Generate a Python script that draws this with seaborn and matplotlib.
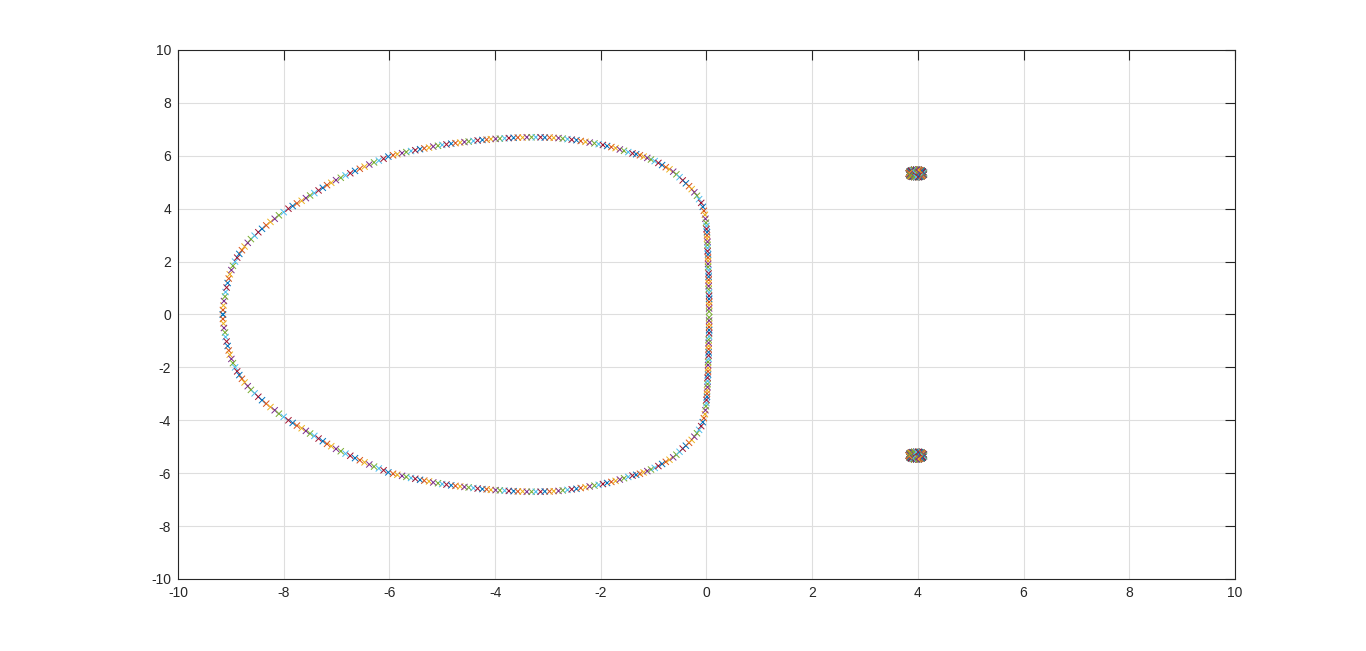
import numpy as np
import pandas as pd
import matplotlib
matplotlib.use("Agg")
import matplotlib.pyplot as plt
import seaborn as sns

# Roots: upper branch of the closed locus (lower branch is its conjugate)
locus_re = [
    -9.15, -9.15, -9.14, -9.13, -9.11, -9.10, -9.08, -9.06, -9.04, -9.02,
    -8.99, -8.96, -8.92, -8.88, -8.84, -8.79, -8.74, -8.68, -8.62, -8.55,
    -8.48, -8.41, -8.33, -8.25, -8.17, -8.09, -8.00, -7.91, -7.83, -7.75,
    -7.66, -7.58, -7.50, -7.42, -7.34, -7.26, -7.18, -7.10, -7.01, -6.92,
    -6.83, -6.74, -6.65, -6.56, -6.47, -6.38, -6.29, -6.20, -6.11, -6.02,
    -5.93, -5.85, -5.76, -5.68, -5.59, -5.51, -5.42, -5.34, -5.25, -5.17,
    -5.08, -5.00, -4.92, -4.83, -4.75, -4.66, -4.58, -4.50, -4.41, -4.33,
    -4.24, -4.16, -4.08, -3.99, -3.91, -3.82, -3.74, -3.65, -3.57, -3.48,
    -3.40, -3.31, -3.23, -3.14, -3.06, -2.97, -2.89, -2.80, -2.72, -2.63,
    -2.55, -2.46, -2.38, -2.29, -2.21, -2.12, -2.04, -1.96, -1.88, -1.80,
    -1.72, -1.64, -1.56, -1.48, -1.40, -1.33, -1.26, -1.19, -1.12, -1.05,
    -0.98, -0.91, -0.84, -0.77, -0.70, -0.63, -0.57, -0.51, -0.45, -0.39,
    -0.33, -0.28, -0.23, -0.18, -0.14, -0.10, -0.07, -0.05, -0.03, -0.02,
    -0.01, 0.00, 0.00, 0.01, 0.01, 0.01, 0.02, 0.02, 0.02, 0.02,
    0.03, 0.03, 0.03, 0.03, 0.03, 0.04, 0.04, 0.04, 0.04, 0.04,
    0.04, 0.04, 0.05, 0.05, 0.05, 0.05, 0.05, 0.05, 0.05,
]
locus_im = [
    0.00, 0.17, 0.34, 0.51, 0.68, 0.85, 1.02, 1.19, 1.36, 1.52,
    1.68, 1.84, 2.00, 2.15, 2.29, 2.43, 2.57, 2.71, 2.85, 2.98,
    3.11, 3.24, 3.37, 3.50, 3.62, 3.75, 3.87, 4.00, 4.10, 4.20,
    4.30, 4.40, 4.50, 4.59, 4.69, 4.79, 4.89, 4.98, 5.08, 5.17,
    5.26, 5.34, 5.43, 5.51, 5.59, 5.67, 5.75, 5.82, 5.89, 5.97,
    6.02, 6.06, 6.10, 6.14, 6.18, 6.21, 6.25, 6.28, 6.31, 6.35,
    6.38, 6.41, 6.43, 6.46, 6.48, 6.50, 6.52, 6.54, 6.56, 6.58,
    6.60, 6.61, 6.63, 6.64, 6.65, 6.66, 6.67, 6.68, 6.69, 6.69,
    6.70, 6.70, 6.70, 6.70, 6.69, 6.69, 6.68, 6.67, 6.65, 6.63,
    6.61, 6.59, 6.56, 6.53, 6.50, 6.47, 6.44, 6.41, 6.37, 6.33,
    6.29, 6.24, 6.19, 6.14, 6.09, 6.06, 6.02, 5.97, 5.92, 5.86,
    5.80, 5.73, 5.65, 5.57, 5.49, 5.40, 5.30, 5.19, 5.07, 4.96,
    4.85, 4.74, 4.62, 4.49, 4.36, 4.22, 4.07, 3.92, 3.77, 3.62,
    3.47, 3.35, 3.23, 3.11, 2.99, 2.87, 2.75, 2.63, 2.51, 2.39,
    2.27, 2.15, 2.03, 1.91, 1.79, 1.67, 1.55, 1.43, 1.31, 1.19,
    1.07, 0.95, 0.83, 0.71, 0.59, 0.47, 0.35, 0.23, 0.11,
]

# small ring of roots near 4 +/- 5.33j (upper one; lower is its conjugate)
ring_re = [4.11, 4.11, 4.09, 4.07, 4.04, 4.01, 3.97, 3.93, 3.90, 3.87, 3.85, 3.84,
           3.83, 3.84, 3.85, 3.87, 3.90, 3.93, 3.97, 4.01, 4.04, 4.07, 4.09, 4.11]
ring_im = [5.33, 5.37, 5.40, 5.43, 5.45, 5.47, 5.47, 5.47, 5.45, 5.43, 5.40, 5.37,
           5.33, 5.29, 5.26, 5.23, 5.21, 5.20, 5.19, 5.20, 5.21, 5.23, 5.26, 5.29]

matlab_colors = ["#0072BD", "#D95319", "#EDB120", "#7E2F8E", "#77AC30", "#4DBEEE", "#A2142F"]

ticks = list(range(-10, 11, 2))

# build long table: every step k has its conjugate pair on the locus and one on the ring
rows = []
n_ring = len(ring_re)
for k in range(len(locus_re)):
    c = k % 7
    rows.append((locus_re[k], locus_im[k], c))
    rows.append((locus_re[k], -locus_im[k], c))
    rows.append((ring_re[k % n_ring], ring_im[k % n_ring], c))
    rows.append((ring_re[k % n_ring], -ring_im[k % n_ring], c))
df = pd.DataFrame(rows, columns=["re", "im", "color_id"])

sns.set_style("white")
plt.rcParams["font.family"] = ["Liberation Sans", "DejaVu Sans"]
plt.rcParams["axes.unicode_minus"] = False

fig = plt.figure(figsize=(13.66, 6.51), dpi=100)
ax = fig.add_axes([0.1303, 0.1106, 0.7738, 0.8126])

sns.scatterplot(
    data=df,
    x="re",
    y="im",
    hue="color_id",
    palette=matlab_colors,
    marker="x",
    s=20,
    linewidth=0.7,
    legend=False,
    ax=ax,
)

ax.set_xlim(-10, 10)
ax.set_ylim(-10, 10)
ax.set_xticks(ticks)
ax.set_yticks(ticks)
ax.set_xticklabels([str(t) for t in ticks])
ax.set_yticklabels([str(t) for t in ticks])
ax.set_xlabel("")
ax.set_ylabel("")

ax.set_axisbelow(True)
ax.grid(True, color="#dedede", linewidth=0.8)
for side in ax.spines.values():
    side.set_visible(True)
    side.set_color("#262626")
    side.set_linewidth(0.8)
ax.tick_params(direction="in", top=True, right=True, length=7, width=0.8,
               colors="#262626", labelsize=10, pad=5)

fig.savefig("out.png", dpi=100)
